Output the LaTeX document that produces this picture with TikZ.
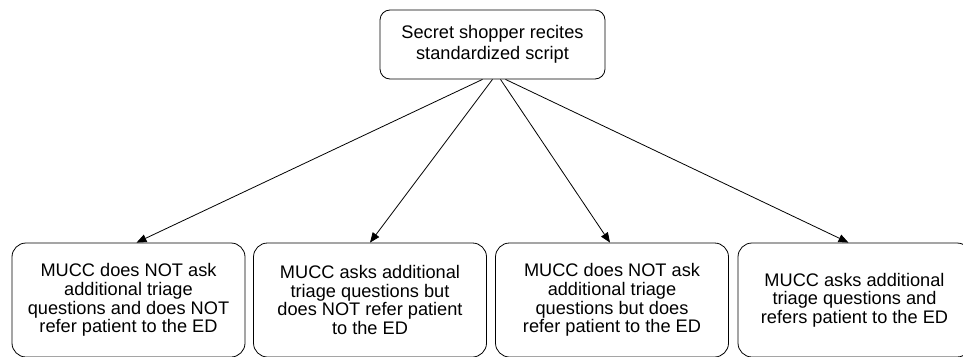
\documentclass[tikz,border=0pt]{standalone}
\usepackage{fontspec}
\setmainfont{Liberation Sans}
\usetikzlibrary{arrows.meta}

\begin{document}
\begin{tikzpicture}[x=1pt, y=-1pt, line width=0.8pt, >={Triangle[length=10pt,width=8pt]},
  box/.style={draw, rounded corners=14pt, align=center, inner sep=0pt,
    font=\fontsize{18.2}{18.6}\selectfont},
  topbox/.style={box, rounded corners=10pt, minimum width=225pt, minimum height=69pt,
    font=\fontsize{18.2}{21.5}\selectfont},
  outcome/.style={box, minimum width=233pt, minimum height=114pt}]
  \useasboundingbox (0,0) rectangle (963,356);

  % --- Script ---
  \node[topbox] (script) at (492.5, 44.5) {Secret shopper recites\\standardized script};

  % --- Outcomes ---
  \node[outcome] (noasknoref) at (128.5, 300) {MUCC does NOT ask\\additional triage\\questions and does NOT\\refer patient to the ED};
  \node[outcome] (asknoref) at (370, 300) {MUCC asks additional\\triage questions but\\does NOT refer patient\\to the ED};
  \node[outcome] (noaskref) at (612, 300) {MUCC does NOT ask\\additional triage\\questions but does\\refer patient to the ED};
  \node[outcome] (askref) at (854.5, 300) {MUCC asks additional\\triage questions and\\refers patient to the ED};

  % Arrows from the script to each outcome
  \draw[->] ([xshift=-10pt]script.south) -- ([xshift=8pt]noasknoref.north);
  \draw[->] ([xshift=0pt]script.south) -- (asknoref.north);
  \draw[->] ([xshift=8pt]script.south) -- ([xshift=-2pt]noaskref.north);
  \draw[->] ([xshift=13pt]script.south) -- ([xshift=-6pt]askref.north);
\end{tikzpicture}
\end{document}
